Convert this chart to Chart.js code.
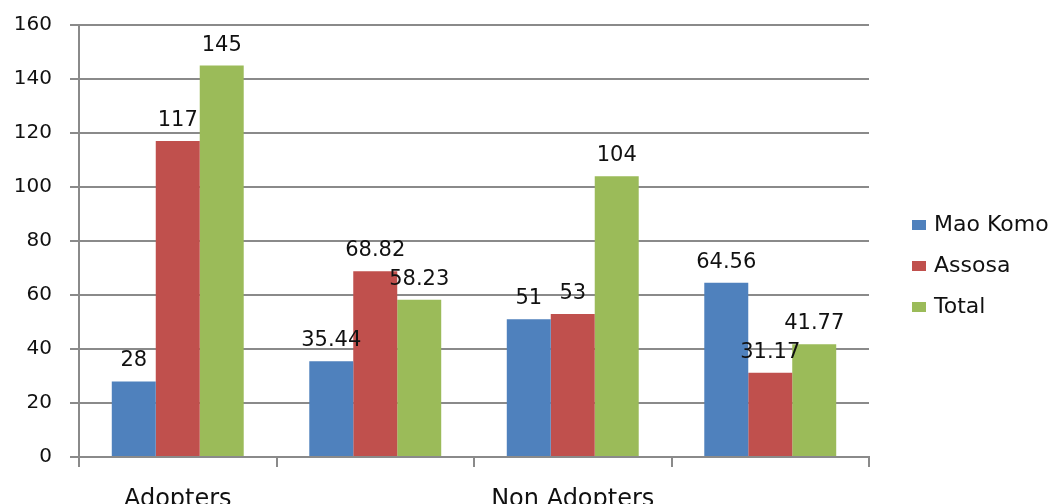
<!DOCTYPE html>
<html>
<head>
<meta charset="utf-8">
<script src="https://cdn.jsdelivr.net/npm/chart.js@4/dist/chart.umd.min.js"></script>
<style>
    html, body { margin: 0; padding: 0; background: #fff; overflow: hidden; }
    canvas { display: block; }
</style>
</head>
<body>
<canvas id="adoption-chart" width="1056" height="504"></canvas>
<script>
// categories (every other slot has no caption under it)
const categories = ['Adopters', '', 'Non Adopters', ''];
const seriesNames = ['Mao Komo', 'Assosa', 'Total'];
const maoKomo = [28, 35.44, 51, 64.56];
const assosa = [117, 68.82, 53, 31.17];
const total = [145, 58.23, 104, 41.77];
const yTicks = [0, 20, 40, 60, 80, 100, 120, 140, 160];

const colors = ['#4F81BD', '#C0504D', '#9BBB59'];
const gridColor = '#8a8a8a';
const textColor = '#111';
const font = "'DejaVu Sans', Verdana, sans-serif";

// value printed above each bar
const barValues = {
    id: 'barValues',
    afterDatasetsDraw(chart) {
        const ctx = chart.ctx;
        ctx.save();
        ctx.font = `21px ${font}`;
        ctx.fillStyle = textColor;
        ctx.textAlign = 'center';
        ctx.textBaseline = 'alphabetic';
        chart.data.datasets.forEach((ds, i) => {
            chart.getDatasetMeta(i).data.forEach((bar, j) => {
                ctx.fillText(String(ds.data[j]), bar.x, bar.y - 15);
            });
        });
        ctx.restore();
    }
};

// legend drawn by hand so it can sit apart from the plot
const sideLegend = {
    id: 'sideLegend',
    afterDraw(chart, args, opts) {
        const ctx = chart.ctx;
        ctx.save();
        ctx.font = `22px ${font}`;
        ctx.textBaseline = 'middle';
        ctx.textAlign = 'left';
        chart.data.datasets.forEach((ds, i) => {
            const y = opts.top + i * opts.spacing;
            ctx.fillStyle = ds.backgroundColor;
            ctx.fillRect(opts.x, y - 5, 14, 10);
            ctx.fillStyle = textColor;
            ctx.fillText(ds.label, opts.x + 22, y);
        });
        ctx.restore();
    }
};

const datasets = [maoKomo, assosa, total].map((values, i) => ({
    label: seriesNames[i],
    data: values,
    backgroundColor: colors[i],
    borderWidth: 0,
    barPercentage: 1,
    categoryPercentage: 0.668
}));

new Chart(document.getElementById('adoption-chart'), {
    type: 'bar',
    data: { labels: categories, datasets: datasets },
    plugins: [barValues, sideLegend],
    options: {
        responsive: false,
        animation: false,
        layout: {
            padding: { left: 0, right: 187, top: 25, bottom: 0 }
        },
        plugins: {
            legend: { display: false },
            tooltip: { enabled: false },
            sideLegend: { x: 912, top: 225, spacing: 41 }
        },
        scales: {
            x: {
                // fixed axis height; the captions run off the bottom edge
                afterFit: (axis) => { axis.height = 47; },
                grid: {
                    offset: true,
                    drawOnChartArea: false,
                    tickLength: 10,
                    color: gridColor,
                    lineWidth: 2
                },
                border: { color: gridColor, width: 2 },
                ticks: {
                    padding: 18,
                    color: textColor,
                    font: { family: font, size: 24 },
                    maxRotation: 0,
                    autoSkip: false
                }
            },
            y: {
                min: 0,
                max: 160,
                afterFit: (axis) => {
                    axis.width = 79;
                    axis.paddingTop = 0;
                    axis.paddingBottom = 0;
                },
                afterBuildTicks: (axis) => {
                    axis.ticks = yTicks.map(v => ({ value: v }));
                },
                grid: {
                    tickLength: 9,
                    color: gridColor,
                    lineWidth: 2
                },
                border: { color: gridColor, width: 2 },
                ticks: {
                    padding: 18,
                    color: textColor,
                    font: { family: font, size: 20 }
                }
            }
        }
    }
});
</script>
</body>
</html>
